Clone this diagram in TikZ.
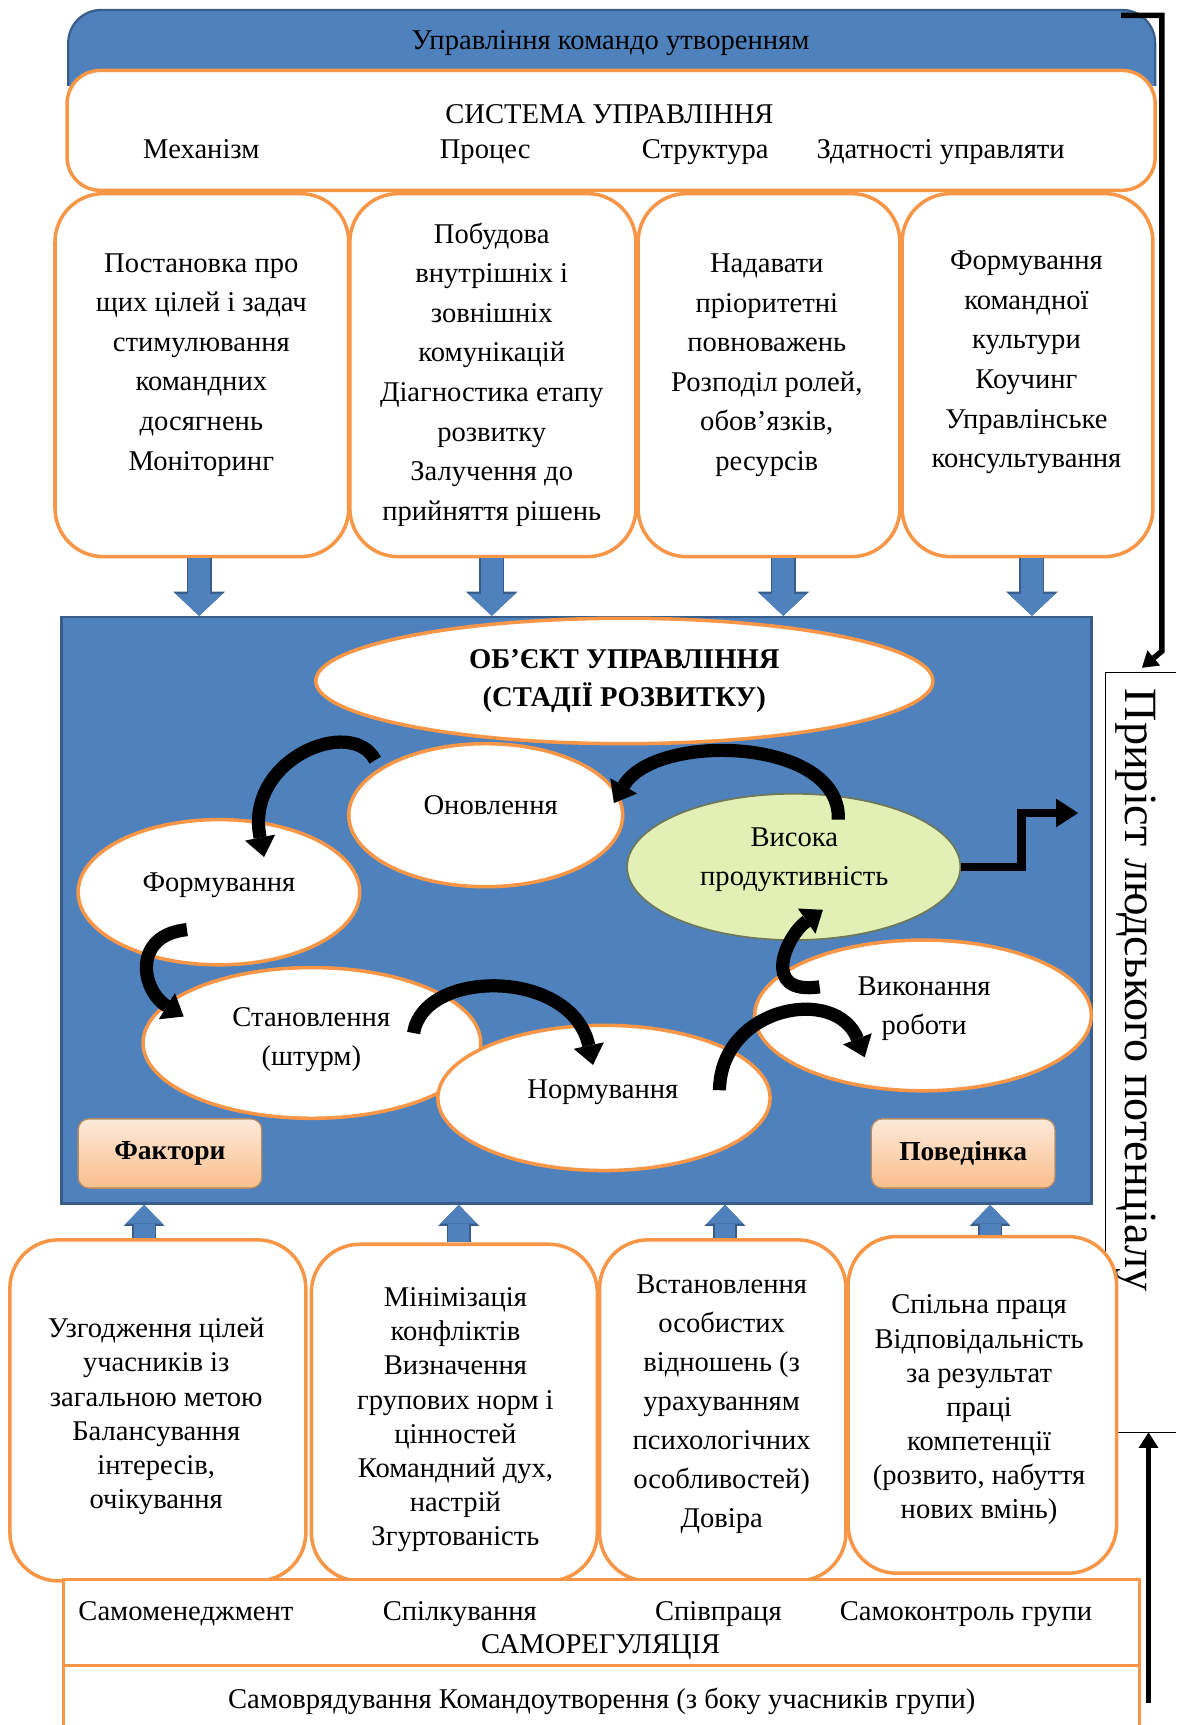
\documentclass[tikz,border=0pt]{standalone}
\usepackage{fontspec}
\setmainfont{Liberation Serif}
\usetikzlibrary{shapes.geometric,arrows.meta,calc}
\definecolor{obor}{RGB}{247,150,70}
\definecolor{oblue}{RGB}{79,129,189}
\definecolor{dblue}{RGB}{56,93,138}
\definecolor{vysfill}{RGB}{226,240,182}
\definecolor{vysbor}{RGB}{110,120,90}
\definecolor{factop}{RGB}{253,234,218}
\definecolor{facbot}{RGB}{250,190,140}
\definecolor{facbor}{RGB}{180,140,100}
\newcommand{\fb}{\fontsize{13}{18}\selectfont}
\newcommand{\fl}{\fontsize{13}{15.5}\selectfont}
\begin{document}
\begin{tikzpicture}[x=0.5pt,y=-0.5pt,
  txt/.style={font=\fb, align=center, inner sep=0pt, yshift=-1.5pt},
  one/.style={font=\fb, inner sep=0pt, text height=9.3pt, text depth=3pt, yshift=-1.5pt},
  ltxt/.style={font=\fl, align=center, inner sep=0pt, yshift=-1.5pt},
  box/.style={draw=obor, line width=1.6pt, fill=white, rounded corners=22pt, inner sep=0pt},
  stage/.style={ellipse, draw=obor, line width=1.6pt, fill=white, inner sep=0pt},
  facbox/.style={draw=facbor, line width=0.6pt, top color=factop, bottom color=facbot, rounded corners=5pt, inner sep=0pt, font=\bfseries\fontsize{12.5}{15}\selectfont},
  bigdown/.style={draw=oblue, line width=10pt, -{Triangle[length=10pt,width=21pt,line width=0pt]},
     preaction={draw=dblue, line width=11.4pt, -{Triangle[length=11pt,width=23.5pt,line width=0pt]}}},
  bigup/.style={draw=oblue, line width=9.5pt, -{Triangle[length=8.5pt,width=16.5pt,line width=0pt]},
     preaction={draw=dblue, line width=10.9pt, -{Triangle[length=9.5pt,width=18.5pt,line width=0pt]}}},
  stagearrow/.style={draw=black, line width=6pt, -{Triangle[length=9pt,width=14pt,line width=0pt]}},
  outarrow/.style={draw=black, line width=4pt, -{Triangle[length=10pt,width=13pt,line width=0pt]}},
  sidearrow/.style={draw=black, line width=2.5pt, -{Triangle[length=7pt,width=9pt,line width=0pt]}}
]
\useasboundingbox (0,0) rectangle (1069,1568);

% ---- top band
\path[fill=oblue, draw=dblue, line width=1pt, rounded corners=15pt] (62,78) -- (62,9) -- (1050,9) -- (1050,78);
\node[one] (band) at (555,36) {Управління командо утворенням};

% ---- system box
\node[draw=obor, line width=1.6pt, fill=white, rounded corners=15pt, minimum width=494.5pt, minimum height=54.5pt, inner sep=0pt] (sys) at (555.5,118.5) {};
\node[one] (systitle) at (554,103) {СИСТЕМА УПРАВЛІННЯ};
\node[one] (s1) at (183,135) {Механізм};
\node[one] (s2) at (441,135) {Процес};
\node[one] (s3) at (641,135) {Структура};
\node[one] (s4) at (855,135) {Здатності управляти};

% ---- upper boxes
\node[box, minimum width=133.5pt, minimum height=165pt] (u1) at (183.5,341) {};
\node[box, minimum width=130pt, minimum height=165pt] (u2) at (448,341) {};
\node[box, minimum width=119pt, minimum height=165pt] (u3) at (699,341) {};
\node[box, minimum width=114pt, minimum height=165pt] (u4) at (934,341) {};
\node[txt] (tu1) at (183,328.5) {Постановка про\\щих цілей і задач\\стимулювання\\командних\\досягнень\\Моніторинг};
\node[txt] (tu2) at (447,337.5) {Побудова\\внутрішніх і\\зовнішніх\\комунікацій\\Діагностика етапу\\розвитку\\Залучення до\\прийняття рішень};
\node[txt] (tu3) at (697,329) {Надавати\\пріоритетні\\повноважень\\Розподіл ролей,\\обов’язків,\\ресурсів};
\node[txt] (tu4) at (933,326.5) {Формування\\командної\\культури\\Коучинг\\Управлінське\\консультування};

% ---- object area
\node[draw=dblue, line width=1.2pt, fill=oblue, minimum width=468pt, minimum height=266.5pt, inner sep=0pt] (obj) at (524,827.5) {};

% down arrows
\coordinate (d1) at (181,0);
\coordinate (d2) at (447,0);
\coordinate (d3) at (712,0);
\coordinate (d4) at (938,0);
\draw[bigdown] (d1 |- u1.south) -- (d1 |- obj.north);
\draw[bigdown] (d2 |- u2.south) -- (d2 |- obj.north);
\draw[bigdown] (d3 |- u3.south) -- (d3 |- obj.north);
\draw[bigdown] (d4 |- u4.south) -- (d4 |- obj.north);

% ellipses
\node[stage, minimum width=280.5pt, minimum height=57pt, font=\bfseries\fontsize{13}{17}\selectfont, align=center] (objE) at (567.5,619) {ОБ’ЄКТ УПРАВЛІННЯ\\(СТАДІЇ РОЗВИТКУ)};
\node[stage, minimum width=124.5pt, minimum height=65pt] (onov) at (441.5,741) {};
\node[stage, draw=vysbor, line width=0.8pt, fill=vysfill, minimum width=151.5pt, minimum height=66.5pt] (vys) at (721.5,788) {};
\node[stage, minimum width=128pt, minimum height=66pt] (form) at (199,811) {};
\node[stage, minimum width=153.5pt, minimum height=68.5pt] (stan) at (283.5,948) {};
\node[stage, minimum width=151pt, minimum height=66pt] (norm) at (549,998) {};
\node[stage, minimum width=153pt, minimum height=68.5pt] (vyk) at (839,923) {};
\node[one] (tonov) at (446,731) {Оновлення};
\node[txt] (tvys) at (722,778.5) {Висока\\продуктивність};
\node[one] (tform) at (199,801) {Формування};
\node[txt] (tstan) at (283,942) {Становлення\\(штурм)};
\node[one] (tnorm) at (548,989) {Нормування};
\node[txt] (tvyk) at (840,914) {Виконання\\роботи};

% factor boxes
\node[facbox, minimum width=83.5pt, minimum height=31.5pt] (fak) at (154.5,1048.5) {Фактори};
\node[facbox, minimum width=83.5pt, minimum height=31.5pt] (pov) at (875.5,1048.5) {Поведінка};

% stage arrows
\draw[stagearrow] ($(onov.center)+(-100.5,-50)$) .. controls (320,650) and (222,690) .. ($(form.center)+(41,-32)$);
\draw[stagearrow] ($(form.center)+(-29,34)$) .. controls (120,850) and (128,900) .. ($(stan.center)+(-116.5,-24)$);
\draw[stagearrow] ($(stan.center)+(92.5,-9)$) .. controls (385,880) and (520,880) .. ($(norm.center)+(-10,-30)$);
\draw[stagearrow] ($(norm.center)+(105,-7)$) .. controls (655,915) and (760,895) .. ($(vyk.center)+(-53,38)$);
\draw[stagearrow] ($(vyk.center)+(-94,-26)$) .. controls (690,905) and (715,850) .. ($(vys.center)+(26.5,39)$);
\draw[stagearrow] ($(vys.center)+(40.5,-43)$) .. controls (765,670) and (595,665) .. ($(onov.center)+(116.5,-11)$);

% output arrow
\coordinate (growth) at (980,739);
\draw[outarrow] (vys.east) -- ++(55,0) |- (growth);

% ---- growth box (side)
\draw[line width=0.6pt] (1069,611) -- (1005,611) -- (1005,1302) -- (1069,1302);
\node[font=\fontsize{21}{25}\selectfont, rotate=-90, inner sep=0pt] (prir) at (1032,900) {Приріст людського потенціалу};

% ---- lower boxes
\node[box, minimum width=134.5pt, minimum height=155pt] (l1) at (143.5,1282) {};
\node[box, minimum width=130pt, minimum height=153pt] (l2) at (413,1284) {};
\node[box, minimum width=112pt, minimum height=155pt] (l3) at (657,1282) {};
\node[box, minimum width=122pt, minimum height=153pt] (l4) at (893,1277) {};
\node[ltxt] (tl1) at (142,1284.5) {Узгодження цілей\\учасників із\\загальною метою\\Балансування\\інтересів,\\очікування};
\node[ltxt] (tl2) at (414,1287.5) {Мінімізація\\конфліктів\\Визначення\\групових норм і\\цінностей\\Командний дух,\\настрій\\Згуртованість};
\node[txt, font=\fontsize{13}{17.75}\selectfont] (tl3) at (656,1273.5) {Встановлення\\особистих\\відношень (з\\урахуванням\\психологічних\\особливостей)\\Довіра};
\node[ltxt] (tl4) at (890,1278.5) {Спільна праця\\Відповідальність\\за результат\\праці\\компетенції\\(розвито, набуття\\нових вмінь)};

% up arrows
\coordinate (e1) at (131,0);
\coordinate (e2) at (417,0);
\coordinate (e3) at (659,0);
\coordinate (e4) at (900,0);
\draw[bigup] (e1 |- l1.north) -- (e1 |- obj.south);
\draw[bigup] (e2 |- l2.north) -- (e2 |- obj.south);
\draw[bigup] (e3 |- l3.north) -- (e3 |- obj.south);
\draw[bigup] (e4 |- l4.north) -- (e4 |- obj.south);

% ---- bottom frame
\node[draw=obor, line width=1.2pt, fill=white, minimum width=489pt, minimum height=39pt, inner sep=0pt] (selfreg) at (547,1475) {};
\draw[draw=obor, line width=1.2pt] (58,1568) -- (58,1514) -- (1036,1514) -- (1036,1568);
\node[one] (r1) at (169,1464) {Самоменеджмент};
\node[one] (r2) at (418,1464) {Спілкування};
\node[one] (r3) at (653,1464) {Співпраця};
\node[one] (r4) at (878,1464) {Самоконтроль групи};
\node[one] (rtitle) at (546,1494) {САМОРЕГУЛЯЦІЯ};
\node[one] (selfgov) at (547,1544) {Самоврядування Командоутворення (з боку учасників групи)};

% ---- side black lines
\coordinate (tr) at (1019,14);
\coordinate (prtop) at (1038,607);
\draw[sidearrow] (tr) -- (1056,14) -- (1056,592) -- (prtop);
\coordinate (br) at (1044,1548);
\coordinate (prbot) at (1044,1302);
\draw[sidearrow] (br) -- (prbot);
\end{tikzpicture}
\end{document}
